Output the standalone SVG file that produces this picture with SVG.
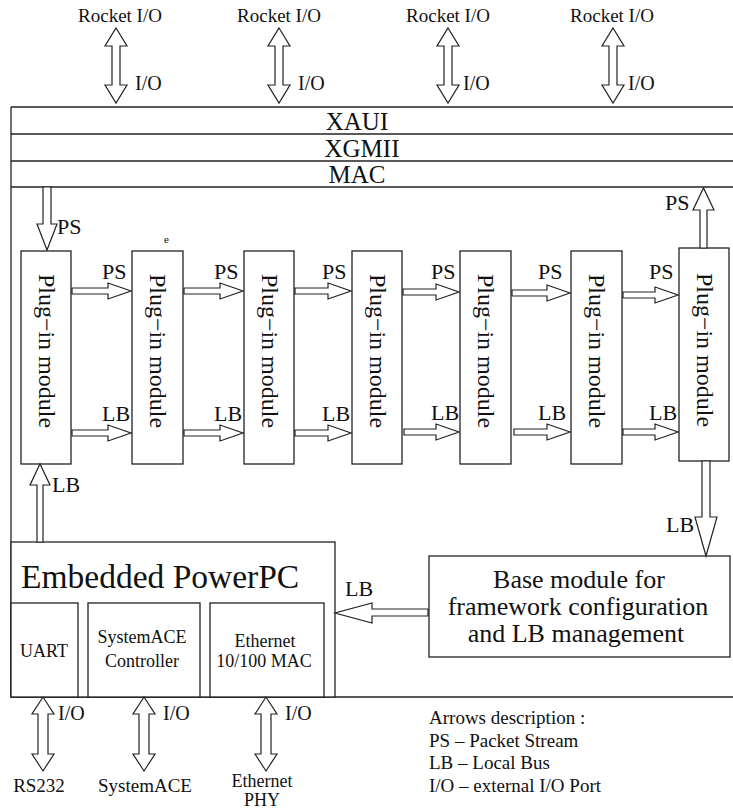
<svg xmlns="http://www.w3.org/2000/svg" width="733" height="809" viewBox="0 0 733 809">
<style>
  text { font-family: "Liberation Serif", "Times New Roman", serif; fill: #111; }
  .ln { stroke: #222; stroke-width: 1.3; fill: none; }
  .box { stroke: #222; stroke-width: 1.3; fill: #fff; }
  .arr { stroke: #222; stroke-width: 1.2; fill: #fff; stroke-linejoin: miter; }
  .rk { font-size: 19px; text-anchor: middle; }
  .io { font-size: 20px; }
  .bar { font-size: 25px; text-anchor: middle; }
  .plug { font-size: 24px; text-anchor: middle; }
  .lbl { font-size: 22px; }
  .sub { font-size: 18px; text-anchor: middle; }
  .bot { font-size: 19px; text-anchor: middle; }
  .base { font-size: 26px; text-anchor: middle; }
  .leg { font-size: 19px; }
</style>
<rect width="733" height="809" fill="#fff"/>

<g id="frame">
  <line class="ln" x1="11" y1="107" x2="733" y2="107"/>
  <line class="ln" x1="11" y1="134" x2="733" y2="134"/>
  <line class="ln" x1="11" y1="161" x2="733" y2="161"/>
  <line class="ln" x1="11" y1="187" x2="733" y2="187"/>
  <line class="ln" x1="11" y1="107" x2="11" y2="697"/>
  <line class="ln" x1="11" y1="697" x2="733" y2="697"/>
</g>
<g id="xaui"><text class="bar" x="357" y="130">XAUI</text></g>
<g id="xgmii"><text class="bar" x="362" y="157">XGMII</text></g>
<g id="mac"><text class="bar" x="357" y="183">MAC</text></g>

<g id="rocket1"><text class="rk" x="120" y="22">Rocket I/O</text></g>
<g id="rocket2"><text class="rk" x="279" y="22">Rocket I/O</text></g>
<g id="rocket3"><text class="rk" x="448" y="22">Rocket I/O</text></g>
<g id="rocket4"><text class="rk" x="612" y="22">Rocket I/O</text></g>

<g id="plug1"><rect class="box" x="21" y="251" width="50" height="213"/><text class="plug" transform="translate(39,351) rotate(90)">Plug−in module</text></g>
<g id="plug2"><rect class="box" x="132" y="251" width="51" height="213"/><text class="plug" transform="translate(150,351) rotate(90)">Plug−in module</text></g>
<g id="plug3"><rect class="box" x="244" y="251" width="50" height="213"/><text class="plug" transform="translate(262,351) rotate(90)">Plug−in module</text></g>
<g id="plug4"><rect class="box" x="352" y="251" width="50" height="213"/><text class="plug" transform="translate(370,351) rotate(90)">Plug−in module</text></g>
<g id="plug5"><rect class="box" x="460" y="251" width="51" height="213"/><text class="plug" transform="translate(478,351) rotate(90)">Plug−in module</text></g>
<g id="plug6"><rect class="box" x="571" y="251" width="51" height="213"/><text class="plug" transform="translate(589,351) rotate(90)">Plug−in module</text></g>
<g id="plug7"><rect class="box" x="679" y="248" width="50" height="213"/><text class="plug" transform="translate(697,350) rotate(90)">Plug−in module</text></g>

<g id="ppc">
  <rect class="box" x="11" y="542" width="324" height="155"/>
  <text x="21" y="588" style="font-size:33.5px">Embedded PowerPC</text>
</g>
<g id="uart"><rect class="box" x="11" y="603" width="67" height="94"/><text class="sub" x="44" y="657">UART</text></g>
<g id="sysace"><rect class="box" x="88" y="603" width="112" height="94"/><text class="sub" x="142" y="643">SystemACE</text><text class="sub" x="142" y="667">Controller</text></g>
<g id="eth"><rect class="box" x="210" y="603" width="114" height="94"/><text class="sub" x="265" y="647">Ethernet</text><text class="sub" x="264" y="667">10/100 MAC</text></g>

<g id="base">
  <rect class="box" x="429" y="556" width="301" height="101"/>
  <text class="base" x="579" y="588">Base module for</text>
  <text class="base" x="578" y="615">framework configuration</text>
  <text class="base" x="576" y="642">and LB management</text>
</g>

<g id="rs232"><text class="bot" x="39" y="792">RS232</text></g>
<g id="systemace"><text class="bot" x="145" y="792">SystemACE</text></g>
<g id="ethphy"><text class="bot" x="262" y="787" style="font-size:18px">Ethernet</text><text class="bot" x="262" y="806" style="font-size:18px">PHY</text></g>

<g id="legend">
  <text class="leg" x="429" y="724">Arrows description :</text>
  <text class="leg" x="429" y="747">PS – Packet Stream</text>
  <text class="leg" x="429" y="769">LB – Local Bus</text>
  <text class="leg" x="429" y="792">I/O – external I/O Port</text>
</g>

<g id="connectors">
  <polygon class="arr" points="116,28 127,46 120,46 120,85 127,85 116,103 105,85 112,85 112,46 105,46"/>
  <polygon class="arr" points="279,28 290,46 283,46 283,85 290,85 279,103 268,85 275,85 275,46 268,46"/>
  <polygon class="arr" points="448,28 459,46 452,46 452,85 459,85 448,103 437,85 444,85 444,46 437,46"/>
  <polygon class="arr" points="613,28 624,46 617,46 617,85 624,85 613,103 602,85 609,85 609,46 602,46"/>
  <text class="io" x="135" y="90">I/O</text>
  <text class="io" x="298" y="90">I/O</text>
  <text class="io" x="463" y="90">I/O</text>
  <text class="io" x="628" y="90">I/O</text>

  <polygon class="arr" points="43,187 51,187 51,224 57,224 47,250 37,224 43,224"/>
  <text class="lbl" x="57" y="234">PS</text>
  <text x="164" y="243" style="font-size:11px">e</text>

  <polygon class="arr" points="72,288 108,288 108,283 131,291 108,299 108,294 72,294"/>
  <polygon class="arr" points="184,288 220,288 220,283 243,291 220,299 220,294 184,294"/>
  <polygon class="arr" points="295,288 328,288 328,283 351,291 328,299 328,294 295,294"/>
  <polygon class="arr" points="403,289 436,289 436,284 459,292 436,300 436,295 403,295"/>
  <polygon class="arr" points="512,290 547,290 547,285 570,293 547,301 547,296 512,296"/>
  <polygon class="arr" points="623,292 655,292 655,287 678,295 655,303 655,298 623,298"/>
  <text class="lbl" x="102" y="279">PS</text>
  <text class="lbl" x="214" y="279">PS</text>
  <text class="lbl" x="322" y="279">PS</text>
  <text class="lbl" x="431" y="279">PS</text>
  <text class="lbl" x="538" y="279">PS</text>
  <text class="lbl" x="649" y="279">PS</text>

  <polygon class="arr" points="72,430 108,430 108,425 131,433 108,441 108,436 72,436"/>
  <polygon class="arr" points="184,430 220,430 220,425 243,433 220,441 220,436 184,436"/>
  <polygon class="arr" points="295,430 328,430 328,425 351,433 328,441 328,436 295,436"/>
  <polygon class="arr" points="404,429 436,429 436,424 459,432 436,440 436,435 404,435"/>
  <polygon class="arr" points="514,429 547,429 547,424 570,432 547,440 547,435 514,435"/>
  <polygon class="arr" points="623,429 655,429 655,424 678,432 655,440 655,435 623,435"/>
  <text class="lbl" x="102" y="421">LB</text>
  <text class="lbl" x="214" y="421">LB</text>
  <text class="lbl" x="322" y="421">LB</text>
  <text class="lbl" x="431" y="420">LB</text>
  <text class="lbl" x="538" y="420">LB</text>
  <text class="lbl" x="649" y="420">LB</text>

  <polygon class="arr" points="700,248 700,210 693,210 703.5,188 714,210 707,210 707,248"/>
  <text class="lbl" x="665" y="210">PS</text>

  <polygon class="arr" points="702,461 710,461 710,517 717,517 706,556 695,517 702,517"/>
  <text class="lbl" x="666" y="532">LB</text>

  <polygon class="arr" points="428,609 372,609 372,603 335,613 372,623 372,616 428,616"/>
  <text class="lbl" x="345" y="596">LB</text>

  <polygon class="arr" points="37,542 43,542 43,485 50,485 40,464 30,485 37,485"/>
  <text class="lbl" x="52" y="492">LB</text>

  <polygon class="arr" points="43,697 54,714 48,714 48,754 54,754 43,771 32,754 38,754 38,714 32,714"/>
  <polygon class="arr" points="144,697 155,714 149,714 149,754 155,754 144,771 133,754 139,754 139,714 133,714"/>
  <polygon class="arr" points="266,697 277,714 271,714 271,754 277,754 266,771 255,754 261,754 261,714 255,714"/>
  <text class="io" x="58" y="720">I/O</text>
  <text class="io" x="163" y="720">I/O</text>
  <text class="io" x="285" y="720">I/O</text>
</g>
</svg>
